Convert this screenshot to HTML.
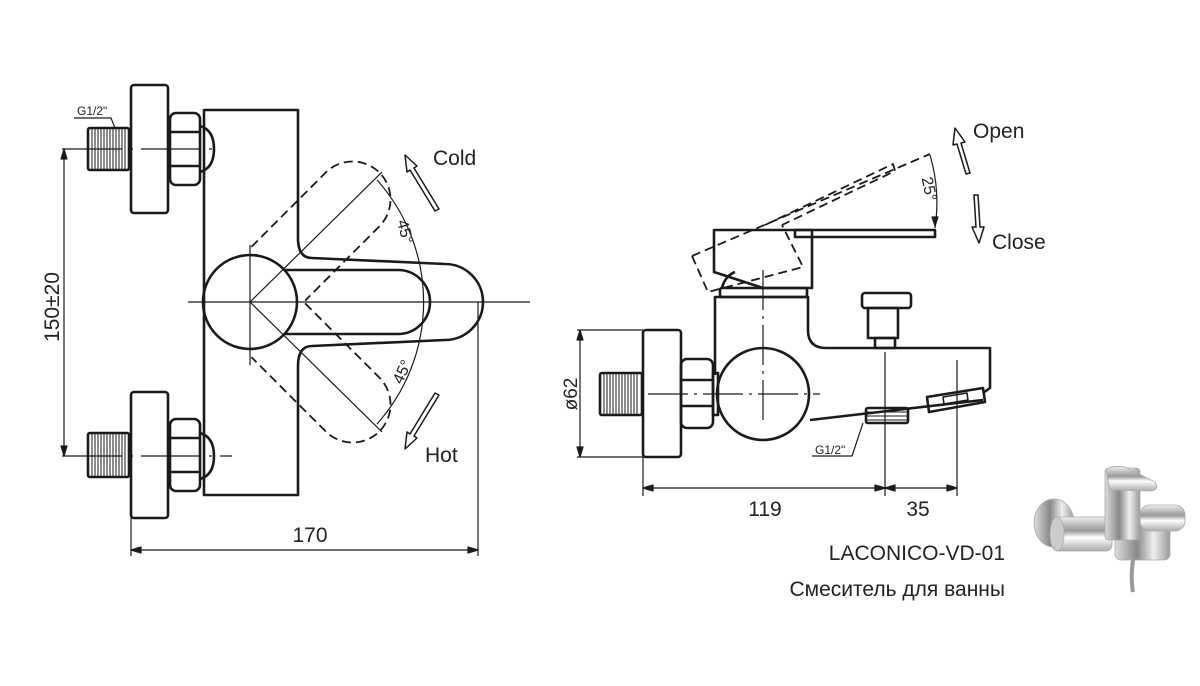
<!DOCTYPE html>
<html><head><meta charset="utf-8"><style>
html,body{margin:0;padding:0;background:#fff}
svg{display:block}
text{font-family:"Liberation Sans",sans-serif;fill:#222}
</style></head><body>
<svg width="1200" height="686" viewBox="0 0 1200 686" xmlns="http://www.w3.org/2000/svg">
<defs>
<linearGradient id="cv" x1="0" y1="0" x2="0" y2="1"><stop offset="0" stop-color="#eee"/><stop offset="0.4" stop-color="#999"/><stop offset="0.6" stop-color="#fff"/><stop offset="1" stop-color="#aaa"/></linearGradient>
<linearGradient id="ch" x1="0" y1="0" x2="1" y2="0"><stop offset="0" stop-color="#ddd"/><stop offset="0.4" stop-color="#888"/><stop offset="0.7" stop-color="#eee"/><stop offset="1" stop-color="#999"/></linearGradient>
</defs>
<g fill="none" stroke="#1a1a1a" stroke-width="2.6" stroke-linejoin="round">
<rect x="131" y="85" width="37" height="128" rx="3"/>
<rect x="131" y="392" width="37" height="126" rx="3"/>
<rect x="88" y="128" width="41" height="42" rx="2"/>
<rect x="88" y="433" width="41" height="44" rx="2"/>
<g stroke-width="1">
<path d="M92 129V169M95 129V169M98 129V169M101 129V169M104 129V169M107 129V169M110 129V169M113 129V169M116 129V169M119 129V169M122 129V169M125 129V169"/>
<path d="M92 434V476M95 434V476M98 434V476M101 434V476M104 434V476M107 434V476M110 434V476M113 434V476M116 434V476M119 434V476M122 434V476M125 434V476"/>
</g>
<rect x="170" y="113" width="30" height="72" rx="6"/>
<path d="M170 132H200M170 166H200"/>
<path d="M200 126Q214 130 214 149Q214 168 200 172"/>
<rect x="170" y="419" width="30" height="72" rx="6"/>
<path d="M170 438H200M170 472H200"/>
<path d="M200 433Q214 437 214 456Q214 475 200 479"/>
<path d="M204 110H298V238Q298 258 312 258L445 264A38 38 0 0 1 445 340L312 346Q298 346 298 366V495H204Z"/>
<circle cx="250" cy="302" r="47"/>
<path d="M285 270H398A32 32 0 0 1 398 334H285"/>
<g stroke-dasharray="9 5" stroke-width="1.8">
<g transform="rotate(-45 250 302)"><path d="M290 264H395A38 38 0 0 1 395 340H290"/><path d="M297 302A47 47 0 0 0 270 260"/></g>
<g transform="rotate(45 250 302)"><path d="M290 264H395A38 38 0 0 1 395 340H290"/><path d="M297 302A47 47 0 0 1 270 344"/></g>
</g>
<g stroke-width="1.2">
<path d="M188 302H530"/>
<path d="M250 245V365"/>
<path d="M250 302L382 172M250 302L382 432"/>
<path d="M377 180A183 183 0 0 1 377 424"/>
<path d="M62 149H215M62 456H232" stroke-dasharray="60 8 3 8"/>
<path d="M64 149V456"/>
<path d="M64 149l-3 10h6zM64 456l-3-10h6z" fill="#1a1a1a"/>
<path d="M131 518V556M478 302V556M131 550H478"/>
<path d="M131 550l10-3v6zM478 550l-10-3v6z" fill="#1a1a1a"/>
<path d="M74 118H111L115 128"/>
</g>
<path d="M439 209L414 168L417 166L405 155L407 172L410 170L435 211Z" stroke-width="1.5"/>
<path d="M439 395L414 436L417 438L405 449L407 432L410 434L435 393Z" stroke-width="1.5"/>

<rect x="643" y="330" width="38" height="127" rx="3"/>
<rect x="600" y="373" width="42" height="42" rx="2"/>
<g stroke-width="1"><path d="M604 374V414M607 374V414M610 374V414M613 374V414M616 374V414M619 374V414M622 374V414M625 374V414M628 374V414M631 374V414M634 374V414M637 374V414"/></g>
<rect x="681" y="359" width="32" height="69" rx="6"/>
<path d="M681 380H713M681 406H713"/>
<rect x="713" y="373" width="5" height="42"/>
<path d="M715 375V297H808V330Q808 348 826 348H990V388L983 393M983 400L810 420"/>
<circle cx="763" cy="394" r="46"/>
<rect x="720" y="288" width="87" height="9" rx="2"/>
<path d="M714 230H812V288H763L714 272Z"/>
<path d="M722 288Q725 276 735 272"/>
<rect x="795" y="230" width="140" height="7"/>
<rect x="862" y="293" width="49" height="15" rx="3"/>
<rect x="868" y="308" width="30" height="30"/>
<rect x="875" y="338" width="20" height="10"/>
<path d="M927 397L983 388L985 402L929 412Z"/>
<path d="M943 397L967 393L968 400L944 404Z" stroke-width="1.5"/>
<rect x="866" y="408" width="42" height="15" rx="2"/>
<g stroke-width="1"><path d="M867 412H907M867 416H907M867 420H907"/></g>
<g stroke-dasharray="9 5" stroke-width="1.8">
<path d="M692 256L930 154"/>
<path d="M692 256L708 292L803 267L782 225"/>
<path d="M765 225L893 164L895 171L782 225"/>
</g>
<g stroke-width="1.2">
<path d="M763 270V425M648 394H820" stroke-dasharray="40 6 3 6"/>
<path d="M930 155A170 170 0 0 1 935 228"/>
<path d="M935 226l-3-9h6z" fill="#1a1a1a"/>
<path d="M577 330H643M577 457H643M580 330V457"/>
<path d="M580 330l-3 10h6zM580 457l-3-10h6z" fill="#1a1a1a"/>
<path d="M643 457V496M885 352V496M957 360V496M643 488H957"/>
<path d="M643 488l10-3v6zM885 488l-10-3v6zM885 488l10-3v6zM957 488l-10-3v6z" fill="#1a1a1a"/>
<path d="M812 456H852L863 423"/>
</g>
<path d="M970 173L961 143L965 142L955 128L953 145L957 144L966 174Z" stroke-width="1.5"/>
<path d="M974 195L976 227L972 227L979 243L984 227L980 227L978 195Z" stroke-width="1.5"/>
</g>
<g stroke="#aaa" stroke-width="0.8">
<path d="M1134 555Q1130 575 1133 592" fill="none" stroke="#999" stroke-width="4"/>
<ellipse cx="1054" cy="523" rx="20" ry="24" fill="url(#ch)"/>
<rect x="1052" y="517" width="60" height="34" rx="6" fill="url(#cv)"/>
<ellipse cx="1057" cy="534" rx="7" ry="17" fill="#ccc"/>
<rect x="1115" y="525" width="55" height="35" rx="6" fill="url(#ch)"/>
<rect x="1140" y="505" width="45" height="26" rx="10" fill="url(#cv)"/>
<rect x="1105" y="468" width="35" height="72" rx="4" fill="url(#ch)"/>
<path d="M1106 470Q1110 465 1125 467L1155 482Q1160 490 1150 491L1110 490Z" fill="url(#cv)"/>
</g>
<text x="433" y="165" font-size="21">Cold</text>
<text x="425" y="462" font-size="21">Hot</text>
<text x="973" y="138" font-size="21">Open</text>
<text x="992" y="249" font-size="21">Close</text>
<text x="310" y="542" font-size="21" text-anchor="middle">170</text>
<text x="765" y="516" font-size="21" text-anchor="middle">119</text>
<text x="918" y="516" font-size="21" text-anchor="middle">35</text>
<text transform="translate(59 307) rotate(-90)" font-size="21" text-anchor="middle">150±20</text>
<text transform="translate(577 394) rotate(-90)" font-size="19" text-anchor="middle">ø62</text>
<text x="77" y="115" font-size="12">G1/2"</text>
<text x="815" y="454" font-size="12">G1/2"</text>
<text transform="translate(400 233) rotate(75)" font-size="16" text-anchor="middle" fill="#444">45°</text>
<text transform="translate(407 374) rotate(-65)" font-size="16" text-anchor="middle" fill="#444">45°</text>
<text transform="translate(924 190) rotate(78)" font-size="16" text-anchor="middle" fill="#444">25°</text>
<text x="1005" y="560" font-size="21" text-anchor="end">LACONICO-VD-01</text>
<text x="1005" y="596" font-size="21" text-anchor="end">Смеситель для ванны</text>
</svg>
</body></html>
